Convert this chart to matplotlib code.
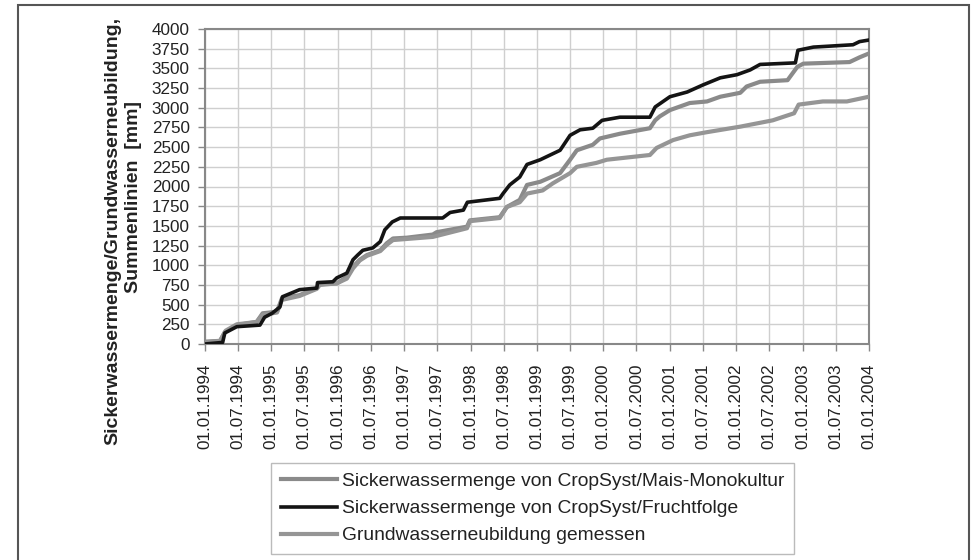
import matplotlib
matplotlib.use("Agg")
import matplotlib.pyplot as plt
import matplotlib.dates as mdates
from matplotlib.patches import Rectangle
import pandas as pd

plt.rcParams['font.family'] = ['Liberation Sans', 'DejaVu Sans']

# ---- data ----
dates_frucht = ["1994-01-01", "1994-04-08", "1994-04-20", "1994-06-25", "1994-10-30", "1994-11-25",
                "1995-01-05", "1995-02-17", "1995-03-03", "1995-06-05", "1995-09-08", "1995-09-12",
                "1995-12-05", "1995-12-27", "1996-02-20", "1996-03-25", "1996-04-20", "1996-05-18",
                "1996-07-12", "1996-08-22", "1996-09-16", "1996-10-27", "1996-12-10", "1997-07-31",
                "1997-09-10", "1997-11-22", "1997-12-14", "1998-06-10", "1998-06-28", "1998-08-04",
                "1998-09-28", "1998-11-07", "1999-01-19", "1999-05-08", "1999-07-02", "1999-08-26",
                "1999-11-04", "1999-12-25", "2000-04-01", "2000-09-13", "2000-10-12", "2001-01-01",
                "2001-04-06", "2001-07-02", "2001-10-05", "2002-01-05", "2002-03-18", "2002-05-12",
                "2002-11-22", "2002-12-06", "2003-03-01", "2003-10-05", "2003-11-10", "2004-01-01"]
vals_frucht = [0, 20, 140, 220, 240, 340,
               390, 470, 600, 690, 710, 780,
               790, 840, 900, 1070, 1130, 1190,
               1220, 1300, 1450, 1550, 1600, 1600,
               1670, 1700, 1800, 1850, 1910, 2020,
               2120, 2280, 2340, 2460, 2650, 2720,
               2740, 2840, 2880, 2880, 3010, 3140,
               3200, 3290, 3380, 3420, 3480, 3550,
               3570, 3730, 3770, 3800, 3840, 3860]

dates_mais = ["1994-01-01", "1994-03-25", "1994-04-20", "1994-06-25", "1994-10-12", "1994-11-14",
              "1995-02-01", "1995-02-28", "1995-06-05", "1995-09-08", "1995-09-24", "1995-12-27",
              "1996-02-20", "1996-03-25", "1996-05-01", "1996-06-10", "1996-08-22", "1996-09-27",
              "1996-10-31", "1997-01-15", "1997-06-07", "1997-06-28", "1997-12-12", "1997-12-28",
              "1998-06-10", "1998-07-19", "1998-09-28", "1998-11-07", "1999-01-19", "1999-05-08",
              "1999-07-02", "1999-08-08", "1999-11-04", "1999-12-13", "2000-04-01", "2000-09-13",
              "2000-10-12", "2000-11-06", "2001-01-01", "2001-04-20", "2001-07-24", "2001-10-05",
              "2002-01-23", "2002-02-27", "2002-05-12", "2002-10-10", "2002-12-03", "2003-01-05",
              "2003-09-16", "2003-11-10", "2004-01-01"]
vals_mais = [30, 40, 150, 240, 280, 390,
             410, 580, 620, 710, 760, 770,
             850, 980, 1070, 1130, 1190, 1280,
             1340, 1350, 1390, 1420, 1490, 1570,
             1610, 1740, 1830, 2020, 2060, 2170,
             2340, 2460, 2530, 2610, 2670, 2740,
             2840, 2890, 2970, 3060, 3080, 3140,
             3190, 3270, 3330, 3350, 3520, 3560,
             3580, 3640, 3690]

dates_gw = ["1994-01-01", "1994-03-25", "1994-04-25", "1994-06-25", "1994-10-12", "1994-11-14",
            "1995-02-01", "1995-02-28", "1995-06-05", "1995-09-08", "1995-09-24", "1995-12-27",
            "1996-02-20", "1996-03-25", "1996-05-01", "1996-06-10", "1996-08-22", "1996-09-27",
            "1996-10-31", "1997-06-07", "1997-12-12", "1997-12-28", "1998-06-10", "1998-07-19",
            "1998-09-28", "1998-11-07", "1999-02-01", "1999-03-29", "1999-07-02", "1999-08-08",
            "1999-11-24", "2000-01-20", "2000-09-13", "2000-10-20", "2001-01-19", "2001-04-20",
            "2001-07-24", "2002-01-23", "2002-07-20", "2002-11-15", "2002-12-10", "2003-04-22",
            "2003-09-01", "2004-01-01"]
vals_gw = [20, 40, 170, 250, 280, 370,
           400, 560, 610, 700, 750, 770,
           830, 960, 1060, 1120, 1180, 1260,
           1320, 1360, 1470, 1560, 1600, 1740,
           1800, 1910, 1950, 2040, 2170, 2250,
           2300, 2340, 2400, 2490, 2590, 2650,
           2690, 2760, 2840, 2930, 3040, 3080,
           3080, 3140]

label_mais = "Sickerwassermenge von CropSyst/Mais-Monokultur"
label_frucht = "Sickerwassermenge von CropSyst/Fruchtfolge"
label_gw = "Grundwasserneubildung gemessen"

y_ticks = list(range(0, 4001, 250))
x_tick_dates = [f"{y}-{m:02d}-01" for y in range(1994, 2005) for m in (1, 7)][:-1]

# ---- figure ----
W, H = 978, 560
fig = plt.figure(figsize=(W / 100, H / 100), dpi=100)

# outer frame
fig.patches.append(Rectangle((18 / W, 0 - 0.01), (969 - 18) / W, (H - 5) / H + 0.01,
                             transform=fig.transFigure, fill=False,
                             edgecolor='#555555', linewidth=1.5))

L, R, T, B = 205, 869, 29, 344
ax = fig.add_axes([L / W, (H - B) / H, (R - L) / W, (B - T) / H])

ax.plot(pd.to_datetime(dates_mais), vals_mais, color='#8a8a8a', lw=3.0, label=label_mais, zorder=3)
ax.plot(pd.to_datetime(dates_frucht), vals_frucht, color='#141414', lw=2.6, label=label_frucht, zorder=4)
ax.plot(pd.to_datetime(dates_gw), vals_gw, color='#959595', lw=3.0, label=label_gw, zorder=3)

xt = pd.to_datetime(x_tick_dates)
ax.set_xlim(pd.Timestamp("1994-01-01"), pd.Timestamp("2004-01-01"))
ax.set_ylim(0, 4000)
ax.set_xticks(xt)
ax.set_xticklabels([d.strftime("%d.%m.%Y") for d in xt], rotation=90, fontsize=12.3, color='#222222')
ax.set_yticks(y_ticks)
ax.set_yticklabels([str(v) for v in y_ticks], fontsize=12.3, color='#222222')
ax.tick_params(axis='both', direction='out', length=5, width=1, color='#888888')
ax.tick_params(axis='x', pad=9)
ax.tick_params(axis='y', pad=6)

ax.grid(True, color='#cfcfcf', linewidth=1.0)
ax.set_axisbelow(True)
for s in ax.spines.values():
    s.set_color('#888888')
    s.set_linewidth(1.5)

# y label (two lines)
fig.text(113 / W, 1 - 231 / H, "Sickerwassermenge/Grundwasserneubildung,", rotation=90,
         ha='center', va='center', fontsize=14, fontweight='bold', color='#222222')
fig.text(134 / W, 1 - 197 / H, "Summenlinien  [mm]", rotation=90,
         ha='center', va='center', fontsize=14, fontweight='bold', color='#222222')

leg = fig.legend(loc='upper left', bbox_to_anchor=(271 / W, 1 - 463 / H),
                 bbox_transform=fig.transFigure, fontsize=13.9, frameon=True,
                 fancybox=False, edgecolor='#aaaaaa', handlelength=2.9,
                 handletextpad=0.3, labelspacing=0.5, borderpad=0.5,
                 borderaxespad=0)
leg.get_frame().set_linewidth(1.0)
for t in leg.get_texts():
    t.set_color('#222222')

fig.savefig("out.png", dpi=100)
